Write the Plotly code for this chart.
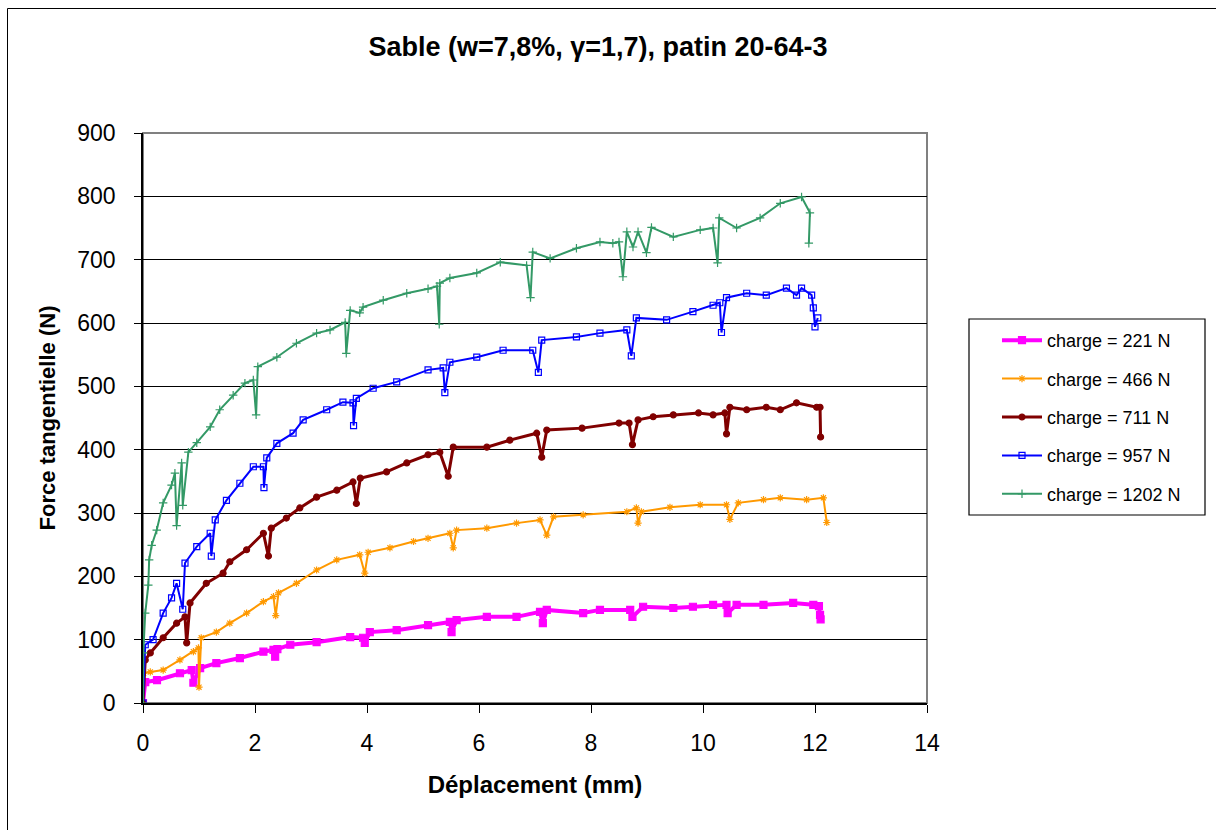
import plotly.graph_objects as go

# ---- data ----
x_221 = [0, 0.04, 0.25, 0.66, 0.87, 0.9, 1.02, 1.31, 1.73, 2.15, 2.33, 2.36, 2.4, 2.63, 3.1, 3.7, 3.93, 3.96, 4.05, 4.53, 5.09,
         5.48, 5.51, 5.6, 6.14, 6.67, 7.09, 7.14, 7.21, 7.86, 8.16, 8.7, 8.74, 8.93, 9.47, 9.82, 10.18, 10.42, 10.44, 10.6,
         11.08, 11.61, 11.97, 12.07, 12.09, 12.1]
y_221 = [0, 33, 36, 47, 52, 32, 55, 63, 71, 81, 84, 73, 85, 92, 96, 104, 103, 95, 112, 115, 123,
         128, 112, 131, 136, 136, 144, 126, 147, 142, 147, 147, 136, 152, 150, 152, 155, 155, 142, 155,
         155, 158, 155, 153, 139, 132]

x_466 = [0, 0.01, 0.13, 0.36, 0.66, 0.9, 0.99, 1.0, 1.04, 1.31, 1.55, 1.85, 2.15, 2.33, 2.37, 2.42, 2.74, 3.1, 3.46, 3.87,
         3.96, 4.02, 4.41, 4.83, 5.09, 5.48, 5.54, 5.6, 6.14, 6.67, 7.09, 7.21, 7.33, 7.86, 8.64, 8.81, 8.84, 8.9, 9.41,
         9.95, 10.42, 10.48, 10.63, 11.08, 11.38, 11.85, 12.15, 12.21]
y_466 = [0, 47, 49, 52, 68, 81, 87, 25, 103, 112, 126, 142, 160, 168, 138, 174, 189, 210, 226, 234,
         205, 238, 245, 255, 260, 268, 245, 273, 276, 284, 289, 265, 294, 297, 302, 308, 284, 302, 309,
         313, 313, 290, 316, 321, 324, 321, 324, 285]

x_711 = [0, 0.04, 0.13, 0.36, 0.6, 0.75, 0.78, 0.84, 1.13, 1.43, 1.55, 1.85, 2.15, 2.24, 2.29, 2.56, 2.8, 3.1, 3.46, 3.75,
         3.81, 3.88, 4.35, 4.71, 5.09, 5.3, 5.45, 5.54, 6.14, 6.55, 7.03, 7.12, 7.21, 7.84, 8.5, 8.68, 8.74, 8.84, 9.11,
         9.47, 9.92, 10.18, 10.39, 10.42, 10.48, 10.78, 11.13, 11.38, 11.67, 12.03, 12.09, 12.1]
y_711 = [0, 68, 79, 103, 126, 136, 95, 158, 189, 205, 223, 242, 268, 232, 276, 292, 308, 325, 336, 349,
         315, 355, 365, 379, 392, 396, 358, 404, 404, 415, 426, 388, 431, 434, 442, 442, 408, 447, 452,
         455, 458, 455, 458, 425, 467, 463, 467, 463, 474, 467, 467, 420]

x_957 = [0, 0.04, 0.18, 0.36, 0.51, 0.6, 0.71, 0.75, 0.96, 1.2, 1.22, 1.29, 1.49, 1.73, 1.97, 2.15, 2.16, 2.21, 2.39, 2.68,
         2.86, 3.28, 3.57, 3.75, 3.76, 3.81, 4.11, 4.53, 5.09, 5.36, 5.39, 5.48, 5.96, 6.43, 6.96, 7.06, 7.12, 7.74, 8.16,
         8.64, 8.72, 8.81, 9.35, 9.82, 10.18, 10.3, 10.33, 10.42, 10.78, 11.13, 11.49, 11.67, 11.76, 11.94, 11.97, 12.0,
         12.05]
y_957 = [0, 92, 100, 142, 166, 189, 148, 221, 247, 268, 232, 289, 320, 347, 373, 373, 340, 387, 410, 426,
         447, 463, 475, 474, 438, 481, 497, 507, 526, 529, 490, 538, 546, 557, 557, 522, 573, 578, 584,
         589, 548, 608, 605, 618, 628, 632, 585, 640, 647, 644, 655, 644, 655, 644, 624, 594,
         608]

x_1202 = [0, 0.005, 0.04, 0.095, 0.11, 0.155, 0.245, 0.36, 0.51, 0.57, 0.6, 0.69, 0.71, 0.81, 0.96, 1.2, 1.37, 1.61, 1.82,
          1.97, 2.02, 2.05, 2.39, 2.74, 3.1, 3.34, 3.61, 3.63, 3.7, 3.87, 3.93, 4.29, 4.71, 5.09, 5.25, 5.29, 5.3, 5.48,
          5.96, 6.38, 6.85, 6.92, 6.96, 7.27, 7.74, 8.16, 8.39, 8.5, 8.57, 8.64, 8.75, 8.84, 8.99, 9.08, 9.47, 9.95,
          10.18, 10.26, 10.29, 10.6, 11.02, 11.38, 11.76, 11.91, 11.89]
y_1202 = [0, 79, 142, 186, 226, 249, 273, 316, 344, 363, 280, 379, 312, 396, 411, 436, 463, 486, 505,
          510, 455, 531, 546, 568, 584, 589, 601, 552, 620, 616, 625, 636, 647, 654, 658, 598, 663, 671,
          679, 696, 691, 640, 712, 702, 718, 728, 726, 728, 673, 744, 720, 744, 711, 751, 736, 747,
          750, 695, 766, 750, 766, 789, 799, 774, 726]

series_names = ["charge = 221 N", "charge = 466 N", "charge = 711 N", "charge = 957 N", "charge = 1202 N"]
series_x = [x_221, x_466, x_711, x_957, x_1202]
series_y = [y_221, y_466, y_711, y_957, y_1202]

colors = ["#FF00FF", "#FF9900", "#800000", "#0000FF", "#339966"]
symbols = ["square", "asterisk-open", "circle", "square-open", "cross-thin-open"]
msizes = [7, 6, 6, 6, 6]
lwidths = [4, 2, 3, 2, 2]

x_ticks = [0, 2, 4, 6, 8, 10, 12, 14]
y_ticks = [0, 100, 200, 300, 400, 500, 600, 700, 800, 900]

FONT = "Liberation Sans, Arial, sans-serif"

fig = go.Figure()
for i, (nm, xs, ys) in enumerate(zip(series_names, series_x, series_y)):
    fig.add_trace(go.Scatter(
        x=xs, y=ys, name=nm, mode="lines+markers", legendgroup=nm,
        line=dict(color=colors[i], width=lwidths[i]),
        marker=dict(symbol=symbols[i], size=msizes[i], color=colors[i],
                    line=dict(color=colors[i], width=1.2)),
    ))

L, R, T, B = 143, 927, 133, 703
W, H = 1216, 830
pw, ph = R - L, B - T

def px_x(p):
    return (p - L) / pw

def px_y(p):
    return (B - p) / ph

fig.update_layout(
    width=W, height=H,
    margin=dict(l=L, r=W - R, t=T, b=H - B, autoexpand=False),
    paper_bgcolor="white", plot_bgcolor="white",
    font=dict(family=FONT, color="black", size=23),
    title=dict(text="<b>Sable (w=7,8%, γ=1,7), patin 20-64-3</b>", x=598 / W, xanchor="center",
               y=1 - 47 / H, yanchor="middle", font=dict(size=27, family=FONT)),
    xaxis=dict(range=[0, 14], tickvals=x_ticks, showgrid=False, zeroline=False,
               showline=True, linecolor="black", linewidth=2,
               ticks="outside", ticklen=8, tickwidth=1, tickcolor="black",
               ticklabelstandoff=10, tickfont=dict(size=23),
               title=dict(text="<b>Déplacement (mm)</b>", font=dict(size=24), standoff=22)),
    yaxis=dict(range=[0, 900], tickvals=y_ticks, showgrid=True, gridcolor="black", gridwidth=1,
               zeroline=False, showline=True, linecolor="black", linewidth=1.5,
               ticks="outside", ticklen=7, tickwidth=1, tickcolor="black",
               ticklabelstandoff=14, tickfont=dict(size=23),
               title=dict(text="<b>Force tangentielle (N)</b>", font=dict(size=22), standoff=16)),
    legend=dict(x=px_x(997), y=px_y(322), xanchor="left", yanchor="top",
                borderwidth=0, bgcolor="rgba(0,0,0,0)",
                font=dict(size=18, family=FONT), tracegroupgap=12, traceorder="grouped",
                itemwidth=40),
    showlegend=True,
    shapes=[
        dict(type="rect", xref="paper", yref="paper", x0=0, y0=0, x1=1, y1=1,
             line=dict(color="#808080", width=2), layer="below"),
        dict(type="rect", xref="paper", yref="paper",
             x0=px_x(7.5), y0=px_y(840), x1=px_x(1230), y1=px_y(8.5),
             line=dict(color="black", width=1), layer="below"),
        dict(type="rect", xref="paper", yref="paper",
             x0=px_x(969), y0=px_y(515), x1=px_x(1205), y1=px_y(319),
             line=dict(color="black", width=1.2), fillcolor="white", layer="below"),
    ],
)

fig.write_html("out.html", config={"displayModeBar": False},
               post_script="document.body.style.margin='0px';")
